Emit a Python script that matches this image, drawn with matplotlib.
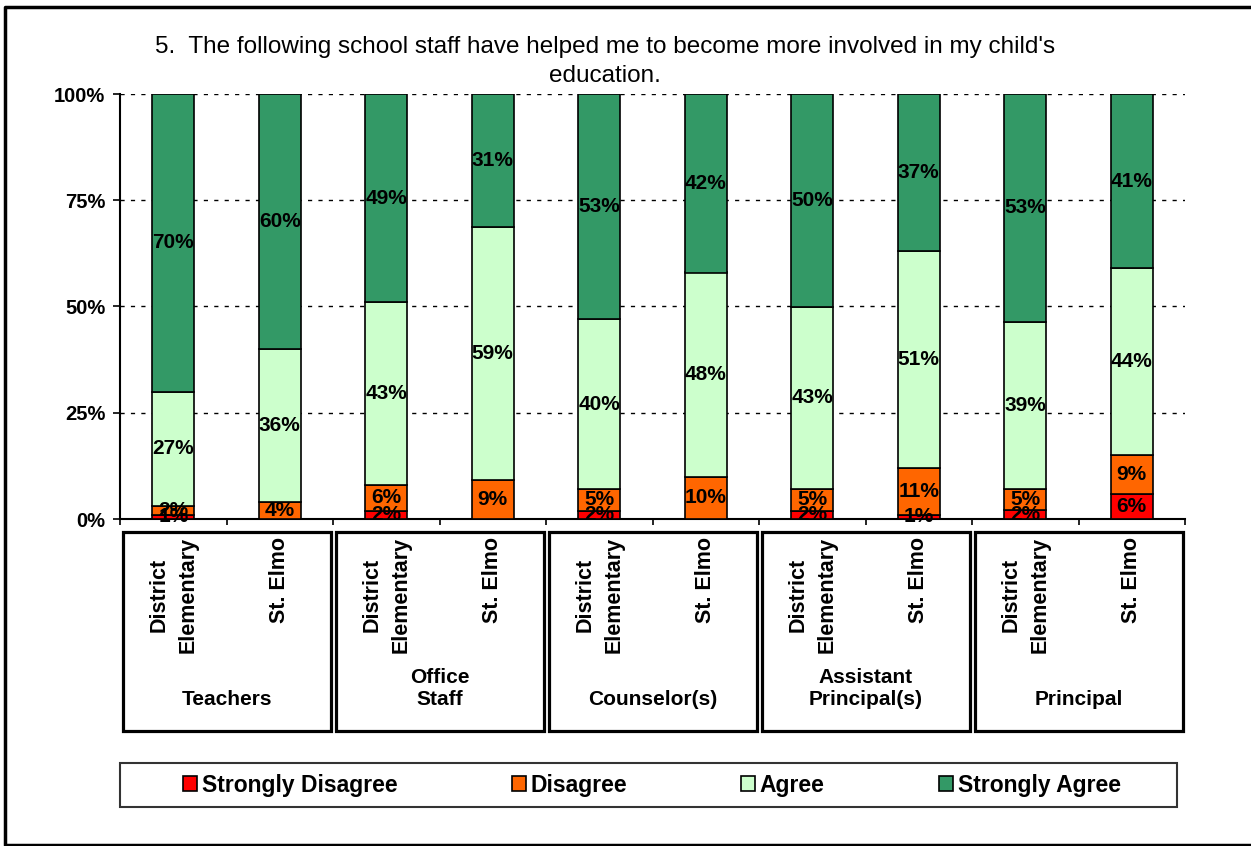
import numpy as np
import matplotlib.pyplot as plt
from matplotlib.patches import Rectangle
from matplotlib.lines import Line2D
from matplotlib import transforms

plt.rcParams['font.family'] = ['Liberation Sans', 'DejaVu Sans']

# data (percent of responses)
groups = ['Teachers', 'Office\nStaff', 'Counselor(s)', 'Assistant\nPrincipal(s)', 'Principal']
schools = ['District\nElementary', 'St. Elmo']
strongly_disagree = [1, 0, 2, 0, 2, 0, 2, 1, 2, 6]
disagree = [2, 4, 6, 9, 5, 10, 5, 11, 5, 9]
agree = [27, 36, 43, 59, 40, 48, 43, 51, 39, 44]
strongly_agree = [70, 60, 49, 31, 53, 42, 50, 37, 53, 41]

series_names = ['Strongly Disagree', 'Disagree', 'Agree', 'Strongly Agree']
series_colors = ['#FF0000', '#FF6600', '#CCFFCC', '#339966']

W, H = 1251, 846


def fx(px):
    return px / W


def fy(py):
    return 1 - py / H


fig = plt.figure(figsize=(W / 100, H / 100), dpi=100)
ax = fig.add_axes([fx(120), fy(519), (1185 - 120) / W, (519 - 94) / H])

series = [strongly_disagree, disagree, agree, strongly_agree]
raw = np.array(series, dtype=float)
totals = raw.sum(axis=0)
x = np.arange(raw.shape[1])

# 100% stacked bars
bottom = np.zeros(len(x))
for vals, name, col in zip(raw, series_names, series_colors):
    h = vals / totals * 100
    ax.bar(x, h, width=0.39, bottom=bottom, color=col, edgecolor='black',
           linewidth=1.2, label=name, zorder=3)
    for xi, v, b, hh in zip(x, vals, bottom, h):
        if v > 0:
            ax.text(xi, b + hh / 2, f'{int(v)}%', ha='center', va='center',
                    fontsize=15, fontweight='bold', zorder=4)
    bottom = bottom + h

ax.set_xlim(-0.5, len(x) - 0.5)
ax.set_ylim(0, 100)
ax.set_yticks([0, 25, 50, 75, 100])
ax.set_yticklabels([f'{t}%' for t in [0, 25, 50, 75, 100]], fontsize=14.5, fontweight='bold')
ax.set_xticks(np.arange(-0.5, len(x), 1))
ax.set_xticklabels([])
ax.tick_params(axis='y', direction='out', length=5, width=1.2, pad=5.5)
ax.tick_params(axis='x', direction='out', length=4.5, width=1.2)
ax.yaxis.grid(True, linestyle=(0, (3, 4.5)), color='black', linewidth=1.0, zorder=1)
ax.set_axisbelow(True)
for s in ['top', 'right']:
    ax.spines[s].set_visible(False)
for s in ['left', 'bottom']:
    ax.spines[s].set_linewidth(1.5)

# group boxes and category labels under the axis
trans = transforms.blended_transform_factory(ax.transData, fig.transFigure)
for g, name in enumerate(groups):
    x0 = 2 * g - 0.5
    fig.add_artist(Rectangle((x0 + 0.025, fy(731)), 1.955, (731 - 532) / H,
                             transform=trans, fill=False, edgecolor='black',
                             linewidth=2.3, clip_on=False))
    ax.text(2 * g + 0.5, fy(709), name, transform=trans, ha='center', va='bottom',
            fontsize=15, fontweight='bold', linespacing=1.2)
for i in x:
    ax.text(i, fy(537), schools[i % 2], transform=trans, rotation=90,
            ha='center', va='top', multialignment='center',
            fontsize=15.5, fontweight='bold', linespacing=1.5)

# title
fig.text(fx(605), fy(36), "5.  The following school staff have helped me to become more involved in my child's\neducation.",
         ha='center', va='top', fontsize=17.5, linespacing=1.4)

# legend
fig.add_artist(Rectangle((fx(120), fy(807)), (1177 - 120) / W, (807 - 763) / H,
                         transform=fig.transFigure, fill=False, edgecolor='#333333',
                         linewidth=1.5))
handles, labels = ax.get_legend_handles_labels()
fig.legend(handles, labels, loc='center', bbox_to_anchor=(fx(652), fy(785)),
           ncol=4, frameon=False, prop={'size': 16.5, 'weight': 'bold'},
           columnspacing=5.0, handlelength=0.6, handleheight=0.6,
           handletextpad=0.2)

# outer chart border (right side cut off in the original)
fig.add_artist(Line2D([fx(1251), fx(5), fx(5), fx(1251)], [fy(7), fy(7), fy(845), fy(845)],
                      transform=fig.transFigure, color='black', linewidth=2.5))

fig.savefig('out.png', dpi=100)
